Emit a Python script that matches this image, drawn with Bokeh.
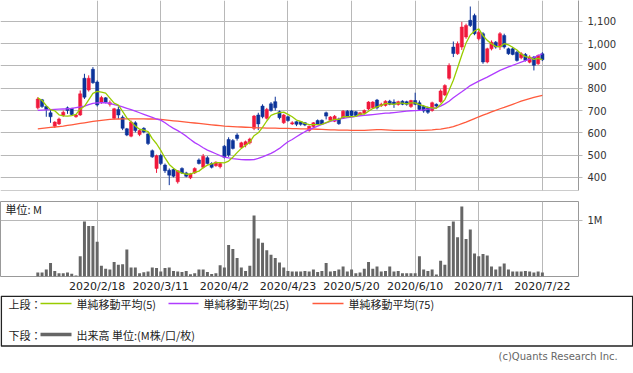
from bokeh.plotting import figure
from bokeh.models import Range1d, FixedTicker, Span, NumeralTickFormatter, ColumnDataSource, Label
from bokeh.layouts import column
from bokeh.embed import file_html
from bokeh.resources import INLINE
from bokeh.core.properties import value

# ---------------- data (trading-day index 0 = 2020/1/28 ... 119 = 2020/7/22) ----------------
opens = [712, 748, 718, 690, 630, 640, 678, 712, 710, 672,
         680, 845, 792, 885, 828, 738, 757, 728, 665, 705,
         670, 618, 585, 645, 592, 620, 595, 520, 440, 498,
         455, 432, 435, 380, 440, 420, 398, 420, 478, 445,
         488, 462, 452, 448, 540, 570, 565, 590, 535, 545,
         555, 620, 680, 720, 665, 730, 740, 695, 645, 672,
         640, 650, 650, 645, 610, 628, 655, 656, 690, 656,
         652, 662, 667, 697, 698, 694, 680, 688, 707, 712,
         747, 722, 723, 742, 738, 727, 742, 740, 718, 745,
         735, 718, 712, 700, 728, 740, 770, 845, 985, 955,
         985, 1030, 1105, 1127, 1022, 1045, 918, 977, 1007, 985,
         1037, 977, 977, 962, 937, 952, 917, 940, 910, 955]
highs = [760, 752, 722, 705, 652, 668, 700, 718, 712, 684,
         790, 865, 858, 895, 835, 766, 760, 745, 712, 718,
         678, 622, 655, 652, 616, 625, 598, 525, 502, 505,
         462, 440, 440, 432, 445, 425, 420, 445, 485, 505,
         495, 468, 472, 466, 545, 580, 572, 598, 560, 565,
         578, 680, 690, 728, 712, 738, 762, 700, 685, 676,
         652, 652, 652, 648, 632, 648, 660, 660, 695, 675,
         680, 668, 702, 702, 702, 698, 694, 705, 742, 742,
         752, 735, 746, 748, 750, 744, 746, 744, 748, 780,
         745, 725, 718, 740, 732, 795, 818, 912, 1010, 1010,
         1098, 1090, 1167, 1135, 1060, 1052, 982, 1015, 1012, 1052,
         1045, 982, 985, 968, 962, 958, 948, 945, 952, 962]
lows = [705, 712, 672, 645, 622, 635, 672, 685, 680, 668,
        676, 752, 785, 820, 718, 730, 732, 718, 660, 662,
        612, 585, 580, 602, 585, 598, 545, 488, 420, 455,
        420, 365, 400, 372, 415, 400, 392, 415, 458, 440,
        458, 440, 448, 440, 485, 492, 525, 565, 530, 535,
        548, 612, 612, 665, 660, 695, 700, 660, 640, 650,
        635, 630, 632, 630, 605, 622, 635, 636, 660, 650,
        648, 636, 662, 672, 674, 672, 676, 684, 702, 708,
        705, 716, 718, 724, 712, 722, 724, 722, 712, 724,
        698, 690, 685, 695, 712, 735, 765, 838, 940, 950,
        972, 1022, 1075, 1038, 1015, 910, 912, 970, 978, 972,
        978, 950, 948, 920, 930, 920, 912, 880, 905, 922]
closes = [752, 718, 705, 672, 648, 662, 692, 700, 682, 680,
          775, 760, 845, 825, 725, 758, 737, 735, 708, 680,
          620, 590, 648, 610, 610, 604, 552, 492, 497, 462,
          430, 410, 405, 430, 420, 405, 415, 440, 462, 495,
          462, 445, 468, 462, 490, 500, 530, 575, 555, 560,
          572, 675, 640, 672, 705, 700, 712, 668, 680, 655,
          645, 638, 638, 635, 630, 645, 638, 640, 675, 671,
          674, 641, 697, 676, 678, 678, 690, 700, 738, 738,
          712, 728, 742, 728, 728, 740, 728, 728, 745, 728,
          705, 698, 692, 735, 720, 788, 812, 902, 956, 1000,
          1075, 1082, 1082, 1045, 1052, 918, 977, 1007, 985, 1045,
          985, 955, 952, 925, 955, 925, 940, 903, 947, 928]
ma5 = [757, 745, 722, 704, 699, 681, 676, 675, 677, 683,
       706, 719, 748, 777, 786, 783, 778, 756, 733, 724,
       696, 667, 649, 630, 616, 612, 605, 574, 551, 521,
       487, 458, 441, 427, 419, 414, 415, 422, 428, 443,
       455, 461, 466, 466, 465, 473, 490, 511, 530, 544,
       558, 587, 600, 624, 653, 678, 686, 691, 693, 683,
       672, 657, 651, 642, 637, 637, 637, 638, 646, 654,
       660, 660, 672, 672, 673, 674, 684, 684, 697, 709,
       716, 723, 732, 730, 728, 733, 733, 730, 734, 734,
       727, 721, 714, 712, 710, 727, 749, 791, 836, 892,
       949, 1003, 1039, 1057, 1067, 1036, 1015, 1000, 988, 986,
       1000, 995, 984, 972, 954, 942, 939, 930, 934, 929]
ma25 = [701, 702, 703, 704, 705, 706, 707, 708, 710, 713,
        716, 720, 726, 732, 734, 735, 735, 732, 727, 722,
        716, 710, 704, 697, 690, 683, 676, 669, 662, 657,
        645, 632, 620, 610, 598, 585, 570, 556, 545, 533,
        522, 514, 506, 498, 491, 487, 484, 482, 480, 479,
        479, 480, 485, 492, 500, 508, 518, 530, 545, 560,
        570, 582, 594, 605, 614, 622, 630, 638, 645, 651,
        656, 661, 665, 668, 671, 674, 676, 678, 680, 682,
        684, 686, 688, 689, 691, 693, 695, 697, 699, 700,
        701, 703, 706, 709, 713, 720, 730, 742, 757, 771,
        784, 798, 812, 822, 832, 841, 850, 860, 870, 880,
        888, 896, 903, 910, 917, 924, 931, 938, 947, 955]
ma75 = [618, 620, 622, 624, 626, 628, 630, 633, 636, 639,
        642, 645, 648, 651, 654, 656, 658, 660, 661, 662,
        663, 663, 663, 663, 663, 663, 662, 662, 661, 660,
        658, 656, 654, 652, 650, 648, 646, 644, 642, 640,
        638, 636, 634, 632, 630, 629, 628, 627, 626, 625,
        624, 623, 622, 622, 621, 621, 621, 620, 620, 620,
        619, 619, 618, 618, 617, 617, 616, 615, 614, 613,
        613, 612, 612, 612, 611, 611, 611, 611, 612, 613,
        614, 614, 613, 612, 611, 611, 611, 611, 611, 611,
        611, 611, 612, 613, 615, 617, 620, 623, 628, 634,
        641, 648, 656, 664, 672, 679, 686, 694, 701, 708,
        714, 721, 728, 735, 742, 748, 754, 759, 764, 768]
volume_m = [0.07, 0.07, 0.125, 0.24, 0.10, 0.057, 0.057, 0.07, 0.05, 0.02,
            0.36, 0.98, 0.90, 0.90, 0.62, 0.19, 0.14, 0.125, 0.26, 0.21,
            0.22, 0.48, 0.16, 0.16, 0.057, 0.074, 0.09, 0.16, 0.15, 0.09,
            0.15, 0.16, 0.10, 0.09, 0.08, 0.10, 0.04, 0.057, 0.125, 0.125,
            0.08, 0.045, 0.057, 0.20, 0.16, 0.56, 0.49, 0.33, 0.16, 0.10,
            0.19, 1.09, 0.68, 0.60, 0.47, 0.39, 0.33, 0.25, 0.16, 0.10,
            0.09, 0.09, 0.09, 0.10, 0.09, 0.125, 0.08, 0.10, 0.24, 0.09,
            0.10, 0.125, 0.18, 0.09, 0.125, 0.057, 0.07, 0.14, 0.26, 0.14,
            0.18, 0.09, 0.10, 0.18, 0.09, 0.10, 0.057, 0.057, 0.057, 0.057,
            0.36, 0.125, 0.10, 0.125, 0.034, 0.28, 0.21, 0.90, 0.98, 0.70,
            1.25, 0.67, 0.84, 0.41, 0.36, 0.40, 0.375, 0.18, 0.125, 0.18,
            0.23, 0.125, 0.09, 0.09, 0.09, 0.10, 0.09, 0.07, 0.09, 0.07]
tick_idx = [14, 29, 44, 59, 74, 89, 104, 119]
tick_labels = ["2020/2/18", "2020/3/11", "2020/4/2", "2020/4/23",
               "2020/5/20", "2020/6/10", "2020/7/1", "2020/7/22"]
price_ticks = [400, 500, 600, 700, 800, 900, 1000, 1100]
legend_labels = ["単純移動平均(5)", "単純移動平均(25)", "単純移動平均(75)"]
volume_label = "出来高 単位:(M株/口/枚)"

# ---------------- styles ----------------
UP, DOWN = "#f0193c", "#0c3399"
C5, C25, C75 = "#99cc00", "#b03cff", "#ff5a3c"
GRID = "#b8b8b8"
JP = "Noto Sans CJK JP"

n = len(closes)
idx = list(range(n))
cols = [UP if c >= o else DOWN for o, c in zip(opens, closes)]
src = ColumnDataSource(dict(
    x=idx, o=opens, h=highs, l=lows, c=closes, col=cols,
    top=[max(o, c) for o, c in zip(opens, closes)],
    bot=[min(o, c) for o, c in zip(opens, closes)],
    ma5=ma5, ma25=ma25, ma75=ma75, vol=volume_m))

xr = Range1d(-8.80, 127.52)

# ---------------- price panel ----------------
p = figure(width=633, height=201, x_range=xr, y_range=Range1d(341, 1194),
           output_backend="svg", toolbar_location=None,
           x_axis_location=None, y_axis_location="right",
           min_border_left=0, min_border_right=55, min_border_top=0, min_border_bottom=11)
p.outline_line_color = None
p.xgrid.ticker = FixedTicker(ticks=tick_idx)
p.grid.grid_line_color = GRID
p.yaxis.ticker = FixedTicker(ticks=price_ticks)
p.yaxis.formatter = NumeralTickFormatter(format="0,0")
p.yaxis.axis_line_color = "#999999"
p.yaxis.major_tick_out = 4
p.yaxis.major_tick_in = 0
p.yaxis.major_tick_line_color = GRID
p.yaxis.minor_tick_line_color = None
p.yaxis.major_label_standoff = 5
p.yaxis.major_label_text_font = "DejaVu Sans"
p.yaxis.major_label_text_font_size = "10px"
p.yaxis.major_label_text_color = "#333333"
p.add_layout(Span(location=341, dimension="width", line_color="#999999", line_width=1))

p.segment(x0="x", x1="x", y0="l", y1="h", line_color="col", line_width=1, source=src)
p.vbar(x="x", width=0.75, top="top", bottom="bot", fill_color="col",
       line_color="col", line_width=0.5, source=src)
p.line("x", "ma75", line_color=C75, line_width=1.3, source=src)
p.line("x", "ma25", line_color=C25, line_width=1.3, source=src)
p.line("x", "ma5", line_color=C5, line_width=1.3, source=src)

# ---------------- volume panel ----------------
v = figure(width=633, height=94, x_range=xr, y_range=Range1d(0, 1.338),
           output_backend="svg", toolbar_location=None, y_axis_location="right",
           min_border_left=0, min_border_right=55, min_border_top=0, min_border_bottom=16)
v.outline_line_color = "#999999"
v.grid.grid_line_color = GRID
v.xaxis.ticker = FixedTicker(ticks=tick_idx)
v.xaxis.major_label_overrides = {t: s for t, s in zip(tick_idx, tick_labels)}
v.xaxis.axis_line_color = None
v.xaxis.major_tick_out = 0
v.xaxis.major_tick_in = 0
v.xaxis.minor_tick_line_color = None
v.xaxis.major_label_standoff = 3
v.xaxis.major_label_text_font = "DejaVu Sans"
v.xaxis.major_label_text_font_size = "11px"
v.xaxis.major_label_text_color = "#222222"
v.yaxis.ticker = FixedTicker(ticks=[1])
v.yaxis.major_label_overrides = {1: "1M"}
v.yaxis.axis_line_color = None
v.yaxis.major_tick_out = 4
v.yaxis.major_tick_in = 0
v.yaxis.major_tick_line_color = GRID
v.yaxis.minor_tick_line_color = None
v.yaxis.major_label_standoff = 5
v.yaxis.major_label_text_font = "DejaVu Sans"
v.yaxis.major_label_text_font_size = "10px"
v.yaxis.major_label_text_color = "#333333"
v.vbar(x="x", width=0.7, top="vol", bottom=0, fill_color="#666666",
       line_color=None, source=src)
v.add_layout(Label(x=-7.6, y=1.2, text="単位: M", text_font=JP, text_font_size="11px",
                   text_baseline="middle", text_color="#222222"))

# ---------------- legend / footer ----------------
g = figure(width=633, height=78, x_range=Range1d(0, 633), y_range=Range1d(78, 0),
           output_backend="svg", toolbar_location=None,
           x_axis_location=None, y_axis_location=None, min_border=0)
g.frame_align = False
g.outline_line_color = None
g.grid.visible = False
g.quad(left=[0.8], right=[632.2], top=[0.8], bottom=[50.5], fill_color=None,
       line_color="#222222", line_width=1.5)
g.segment(x0=[40, 168, 312], x1=[71, 198, 343], y0=[8, 8, 8], y1=[8, 8, 8],
          line_color=[C5, C25, C75], line_width=1.5)
g.segment(x0=[40], x1=[71], y0=[39], y1=[39], line_color="#666666", line_width=3.5)
g.text(x=[8, 76, 203, 348, 8, 76], y=[8, 8, 8, 8, 39, 39],
       text=["上段："] + legend_labels + ["下段：", volume_label],
       text_font=value(JP), text_font_size="11px", text_baseline="middle",
       text_color="#222222")
g.text(x=[498], y=[61], text=["(c)Quants Research Inc."], text_font=value("DejaVu Sans"),
       text_font_size="10px", text_align="left", text_baseline="middle", text_color="#666666")

layout = column(p, v, g, spacing=0)
open("out.html", "w").write(file_html(layout, INLINE))
